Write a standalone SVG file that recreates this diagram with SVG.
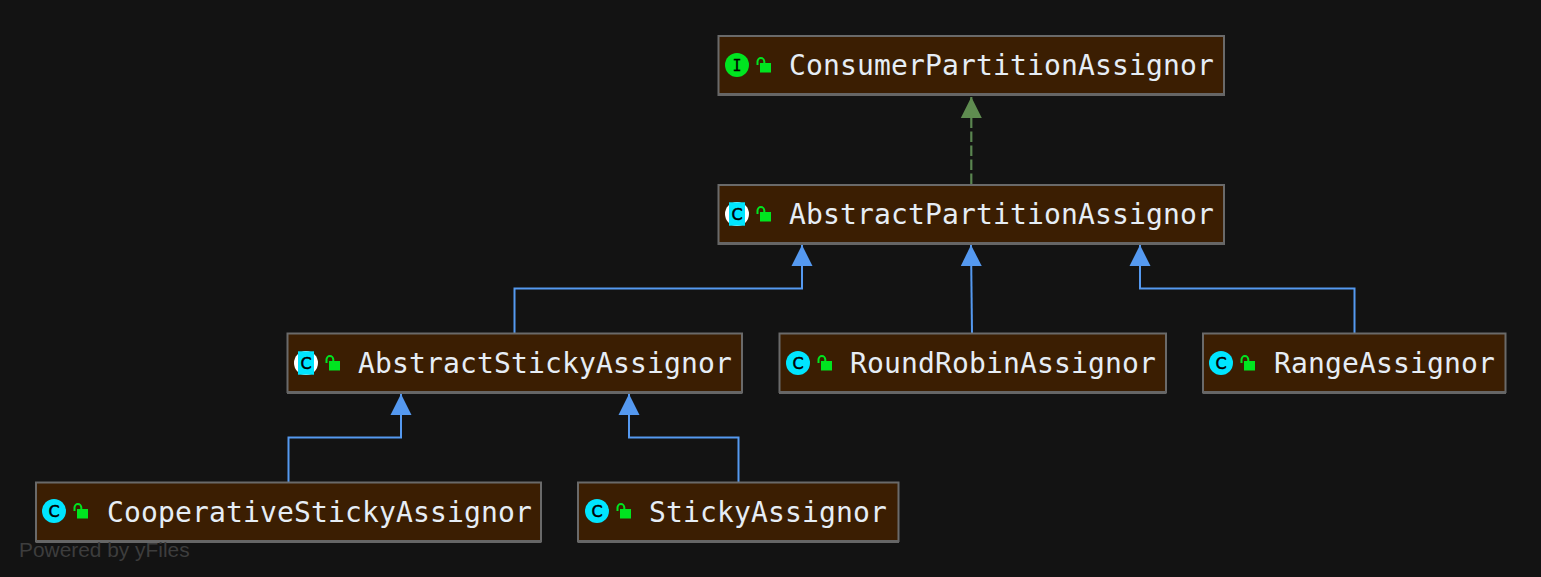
<svg xmlns="http://www.w3.org/2000/svg" width="1541" height="577" viewBox="0 0 1541 577">
<style>
.box{fill:#3b1e02;stroke:#6a6a6a;stroke-width:2}
.base{fill:#666}
.label{font-family:"DejaVu Sans Mono",monospace;font-size:28px;letter-spacing:.14px;fill:#e6edf5}
.glyphI{font-family:"DejaVu Sans Mono",monospace;font-size:15px;fill:#000;stroke:#000;stroke-width:.3;text-anchor:middle}
.glyph{font-family:"DejaVu Sans",sans-serif;font-size:16px;fill:#000;stroke:#000;stroke-width:.5;text-anchor:middle}
.inh{fill:none;stroke:#5599f0;stroke-width:2}
.impl{fill:none;stroke:#5a8550;stroke-width:2.200;stroke-dasharray:10.500 3.500}
.wm{font-family:"Liberation Sans",Arial,sans-serif;font-size:20.900px;fill:#3d3d3d}
</style>
<defs>
<marker id="tri" markerUnits="userSpaceOnUse" markerWidth="22" markerHeight="22" refX="21" refY="11" orient="auto"><path d="M0,0.500L21,11L0,21.500Z" fill="#5599f0"/></marker>
<marker id="triG" markerUnits="userSpaceOnUse" markerWidth="22" markerHeight="22" refX="21" refY="11" orient="auto"><path d="M0,0.500L21,11L0,21.500Z" fill="#5f8c50"/></marker>
<g id="lock"><path d="M-6.500,0V-3.500A3.400,3.400 0 0 1 0.300,-3.500V-2" fill="none" stroke="#00e520" stroke-width="2"/><rect x="-4" y="-2" width="11" height="9.500" fill="#00e520"/></g>
<g id="iconC"><circle r="12" fill="#00e5ff"/></g>
<g id="iconA"><circle r="12" fill="#fff"/><path d="M-8,-11.700H8V11.700H-8Z" fill="#00e5ff"/></g>
</defs>
<rect width="1541" height="577" fill="#131313"/>
<g id="connectors">
<path class="impl" d="M971.300,184V97" marker-end="url(#triG)"/>
<path class="inh" d="M514.500,333V288.500H802V245" marker-end="url(#tri)"/>
<path class="inh" d="M972,333L971,245" marker-end="url(#tri)"/>
<path class="inh" d="M1354.500,333V288.500H1140V245" marker-end="url(#tri)"/>
<path class="inh" d="M288.500,482V437.500H401V394" marker-end="url(#tri)"/>
<path class="inh" d="M738.500,482V437.500H629V394" marker-end="url(#tri)"/>
</g>
<g id="n1"><rect class="box" x="718.500" y="36" width="505.500" height="59"/><rect class="base" x="718" y="93" width="506.500" height="3"/><circle cx="737" cy="65" r="12" fill="#00e520"/><text class="glyphI" x="737" y="70.500">I</text><use href="#lock" x="764" y="65"/><text class="label" x="789" y="75">ConsumerPartitionAssignor</text></g>
<g id="n2"><rect class="box" x="718.500" y="185" width="505.500" height="59"/><rect class="base" x="718" y="242" width="506.500" height="3"/><use href="#iconA" x="737" y="214"/><text class="glyph" x="737" y="220">C</text><use href="#lock" x="764" y="214"/><text class="label" x="789" y="224">AbstractPartitionAssignor</text></g>
<g id="n3"><rect class="box" x="287.500" y="333.500" width="454.500" height="58.500"/><rect class="base" x="287" y="391" width="455.500" height="3"/><use href="#iconA" x="306" y="363"/><text class="glyph" x="306" y="369">C</text><use href="#lock" x="333" y="363"/><text class="label" x="358" y="373">AbstractStickyAssignor</text></g>
<g id="n4"><rect class="box" x="779.500" y="333.500" width="386.500" height="58.500"/><rect class="base" x="779" y="391" width="387.500" height="3"/><use href="#iconC" x="798" y="363"/><text class="glyph" x="798" y="369">C</text><use href="#lock" x="825" y="363"/><text class="label" x="850" y="373">RoundRobinAssignor</text></g>
<g id="n5"><rect class="box" x="1203" y="333.500" width="302.500" height="58.500"/><rect class="base" x="1202.500" y="391" width="303.500" height="3"/><use href="#iconC" x="1221" y="363"/><text class="glyph" x="1221" y="369">C</text><use href="#lock" x="1248" y="363"/><text class="label" x="1274" y="373">RangeAssignor</text></g>
<g id="n6"><rect class="box" x="36" y="482.500" width="505" height="58.500"/><rect class="base" x="35.500" y="540" width="506" height="3"/><use href="#iconC" x="54" y="511"/><text class="glyph" x="54" y="517">C</text><use href="#lock" x="81" y="511"/><text class="label" x="107" y="522">CooperativeStickyAssignor</text></g>
<g id="n7"><rect class="box" x="578" y="482.500" width="320.500" height="58.500"/><rect class="base" x="577.500" y="540" width="321.500" height="3"/><use href="#iconC" x="597" y="511"/><text class="glyph" x="597" y="517">C</text><use href="#lock" x="624" y="511"/><text class="label" x="649" y="522">StickyAssignor</text></g>
<text class="wm" x="19" y="557">Powered by yFiles</text>
</svg>
